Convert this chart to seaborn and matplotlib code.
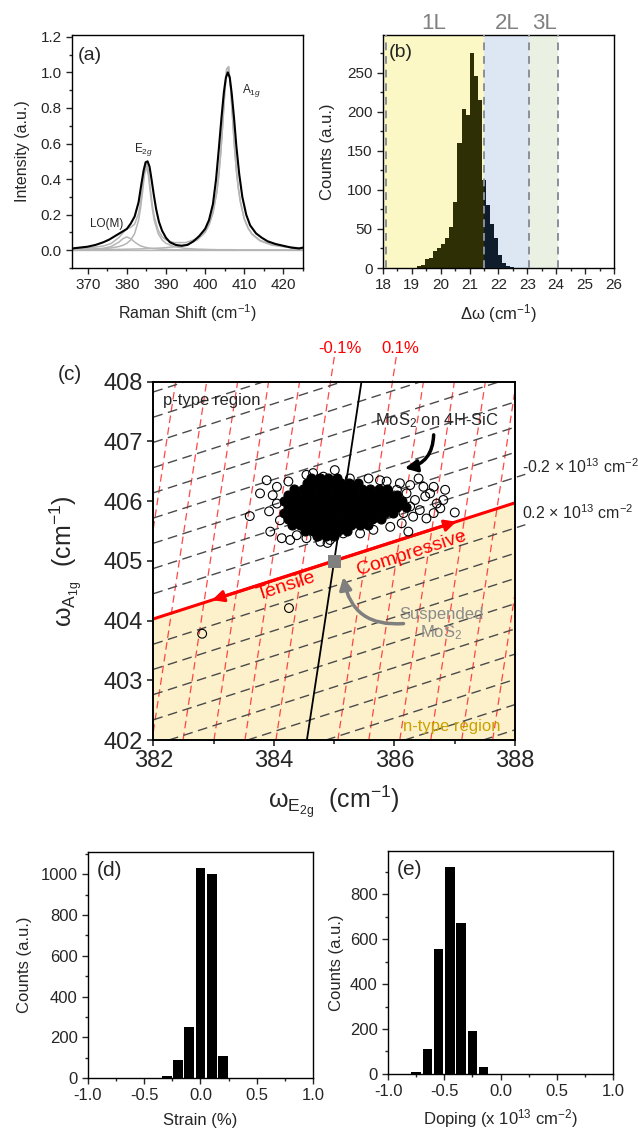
import numpy as np
import pandas as pd
import seaborn as sns
import matplotlib.pyplot as plt
from matplotlib.patches import Rectangle
from matplotlib.ticker import MultipleLocator, FormatStrFormatter

sns.set_style("ticks")
plt.rcParams['font.family'] = ['Liberation Sans', 'DejaVu Sans']
plt.rcParams['mathtext.fontset'] = 'custom'
plt.rcParams['mathtext.rm'] = 'Liberation Sans'
plt.rcParams['mathtext.it'] = 'Liberation Sans:italic'
plt.rcParams['mathtext.bf'] = 'Liberation Sans:bold'
plt.rcParams['axes.unicode_minus'] = False

# ---------------- datos (a): espectro Raman ----------------
spec_x = [366, 368, 370, 372, 374, 375.5, 377, 378.5, 380, 381, 382, 383, 383.7, 384.3, 384.8,
          385.3, 385.8, 386.3, 386.9, 387.5, 388.2, 389, 390, 391, 392.5, 394, 395.5, 397, 398.5,
          400, 401, 402, 402.8, 403.5, 404.2, 404.8, 405.3, 405.8, 406.3, 406.8, 407.4, 408, 408.7,
          409.5, 410.5, 411.5, 413, 414.5, 416, 418, 420, 422, 424, 425]
spec_y = [0.01, 0.015, 0.02, 0.03, 0.045, 0.06, 0.08, 0.10, 0.12, 0.15, 0.19, 0.27, 0.37, 0.45, 0.495,
          0.50, 0.47, 0.40, 0.31, 0.23, 0.16, 0.11, 0.07, 0.045, 0.03, 0.025, 0.03, 0.05, 0.08,
          0.12, 0.17, 0.26, 0.40, 0.57, 0.75, 0.89, 0.97, 1.00, 0.97, 0.88, 0.74, 0.58, 0.43,
          0.30, 0.20, 0.14, 0.095, 0.07, 0.05, 0.035, 0.025, 0.015, 0.01, 0.015]

fit_x = [366, 370, 374, 376, 378, 379, 380, 381, 382, 383, 383.5, 384, 384.5, 385, 385.5, 386, 386.5,
         387, 388, 389, 390, 392, 395, 398, 400, 401, 402, 403, 403.5, 404, 404.5, 405, 405.5, 406,
         406.5, 407, 407.5, 408, 408.5, 409, 410, 411, 412, 414, 417, 421, 425]
fit_lo = [0.002, 0.004, 0.011, 0.021, 0.046, 0.065, 0.075, 0.065, 0.046, 0.031, 0.025, 0.021, 0.018,
          0.015, 0.013, 0.011, 0.010, 0.0085, 0.0067, 0.0054, 0.0044, 0.0031, 0.002, 0.0014, 0.001,
          0.001, 0.001, 0.001, 0.001, 0.001, 0.001, 0.001, 0.001, 0.001, 0.001, 0.001, 0.001, 0.001,
          0.001, 0.001, 0.001, 0.001, 0.001, 0.001, 0.001, 0.001, 0.001]
fit_e2g = [0.003, 0.005, 0.009, 0.013, 0.021, 0.028, 0.039, 0.058, 0.094, 0.169, 0.235, 0.325, 0.423,
           0.47, 0.423, 0.325, 0.235, 0.169, 0.094, 0.058, 0.039, 0.021, 0.010, 0.006, 0.005, 0.004,
           0.004, 0.003, 0.003, 0.003, 0.003, 0.003, 0.003, 0.003, 0.003, 0.003, 0.002, 0.002, 0.002,
           0.002, 0.002, 0.002, 0.002, 0.002, 0.002, 0.001, 0.001]
fit_a1g = [0.002, 0.003, 0.004, 0.004, 0.005, 0.005, 0.006, 0.006, 0.007, 0.007, 0.008, 0.008, 0.008,
           0.009, 0.009, 0.010, 0.010, 0.011, 0.012, 0.013, 0.015, 0.019, 0.031, 0.058, 0.10, 0.142,
           0.208, 0.328, 0.422, 0.548, 0.708, 0.88, 1.015, 1.029, 0.917, 0.745, 0.579, 0.444, 0.345,
           0.272, 0.175, 0.122, 0.089, 0.053, 0.029, 0.017, 0.010]

# ---------------- datos (b): histograma de delta omega ----------------
dw_centers = [19.25, 19.39, 19.53, 19.67, 19.81, 19.95, 20.09, 20.23, 20.37, 20.51, 20.65, 20.79,
              20.93, 21.07, 21.21, 21.35, 21.49, 21.63, 21.77, 21.91, 22.05, 22.19, 22.33, 22.47]
dw_counts = [3, 4, 11, 13, 22, 26, 31, 38, 52, 84, 160, 204, 196, 275, 245, 215, 112, 80, 56, 38,
             17, 6, 2, 1]
dw_bin = 0.14
layer_lines = [18.12, 21.5, 23.05, 24.05]
layer_names = ["1L", "2L", "3L"]
layer_label_x = [19.75, 22.3, 23.6]

# ---------------- datos (c): correlacion E2g - A1g ----------------
E0, A0 = 385.0, 405.0                 # MoS2 suspendido (referencia)
strain_coef = (5.4, 1.75)             # cm-1 por % (E2g, A1g)
doping_coef = (-0.335, -2.22)         # cm-1 por 1e13 cm-2 (E2g, A1g)
strain_labels = [-0.1, 0.1]
doping_labels = [-0.2, 0.2]
arrow_strain = 0.375

core_a1g = [406.38, 406.30, 406.20, 406.10, 406.00, 405.90, 405.80, 405.70, 405.60, 405.50, 405.42]
core_e2g = [
    [384.62, 384.76, 384.90, 385.04],
    [384.55, 384.69, 384.83, 384.97, 385.11, 385.25, 385.39],
    [384.34, 384.48, 384.62, 384.76, 384.90, 385.04, 385.18, 385.32, 385.46, 385.60, 385.74, 385.88],
    [384.23, 384.37, 384.51, 384.65, 384.79, 384.93, 385.07, 385.21, 385.35, 385.49, 385.63, 385.77,
     385.91, 386.05],
    [384.16, 384.30, 384.44, 384.58, 384.72, 384.86, 385.00, 385.14, 385.28, 385.42, 385.56, 385.70,
     385.84, 385.98, 386.12],
    [384.23, 384.37, 384.51, 384.65, 384.79, 384.93, 385.07, 385.21, 385.35, 385.49, 385.63, 385.77,
     385.91, 386.05, 386.19],
    [384.16, 384.30, 384.44, 384.58, 384.72, 384.86, 385.00, 385.14, 385.28, 385.42, 385.56, 385.70,
     385.84, 385.98],
    [384.23, 384.37, 384.51, 384.65, 384.79, 384.93, 385.07, 385.21, 385.35, 385.49, 385.63, 385.77],
    [384.30, 384.44, 384.58, 384.72, 384.86, 385.00, 385.14, 385.28, 385.42, 385.56],
    [384.51, 384.65, 384.79, 384.93, 385.07, 385.21],
    [384.72, 384.86, 385.00],
]
ring_e2g = [383.88, 383.77, 383.98, 383.60, 383.92, 383.94, 384.13, 384.27, 384.05, 384.24, 384.54,
            384.65, 385.01, 384.82, 385.26, 385.57, 385.76, 385.87, 386.09, 386.26, 386.40, 386.48,
            386.65, 386.84, 387.00, 386.70, 386.65, 386.53, 386.42, 386.34, 386.51, 386.23, 386.12,
            385.93, 385.65, 385.43, 385.15, 384.93, 384.77, 384.54, 384.38, 384.89, 384.25, 382.81,
            384.05, 384.10, 386.20, 386.04, 386.26, 385.93, 386.15, 386.31, 385.82, 386.04, 386.81,
            386.59, 386.76]
ring_a1g = [406.35, 406.13, 406.10, 405.75, 405.83, 405.49, 405.38, 405.35, 406.24, 406.33, 406.44,
            406.47, 406.52, 406.41, 406.38, 406.38, 406.35, 406.33, 406.30, 406.27, 406.38, 406.24,
            406.24, 406.19, 405.81, 405.96, 405.80, 405.71, 405.85, 406.02, 406.08, 405.49, 405.63,
            405.57, 405.52, 405.46, 405.46, 405.35, 405.32, 405.38, 405.43, 405.30, 404.21, 403.78,
            405.96, 405.68, 406.13, 406.02, 405.91, 405.85, 405.80, 405.74, 406.13, 406.19, 406.02,
            406.13, 405.88]

# ---------------- datos (d) y (e) ----------------
strain_centers = [-0.3, -0.2, -0.1, 0.0, 0.1, 0.2]
strain_counts = [12, 87, 249, 1031, 1003, 110]
doping_centers = [-0.75, -0.65, -0.55, -0.45, -0.35, -0.25, -0.15]
doping_counts = [10, 113, 558, 920, 671, 193, 33]

fig = plt.figure(figsize=(6.38, 11.30), dpi=100)


def box(ax, lw=1.0):
    for s in ax.spines.values():
        s.set_visible(True)
        s.set_color('black')
        s.set_linewidth(lw)


def hist_bars(ax, centers, counts, width, **kws):
    df = pd.DataFrame({'centro': centers, 'cuenta': counts})
    edges = [c - width / 2 for c in centers] + [centers[-1] + width / 2]
    sns.histplot(data=df, x='centro', weights='cuenta', bins=edges, ax=ax,
                 alpha=1, linewidth=0, **kws)


# ---------------- (a) ----------------
axA = fig.add_axes([0.1129, 0.7628, 0.362, 0.2062])
fit_sum = np.array(fit_lo) + np.array(fit_e2g) + np.array(fit_a1g)
axA.axhline(0, color='#b8b8b8', lw=1.0, zorder=1)
for comp in [fit_lo, fit_e2g, fit_a1g, fit_sum]:
    sns.lineplot(x=fit_x, y=comp, ax=axA, color='#b5b5b5', lw=1.1, zorder=2)
sns.lineplot(x=spec_x, y=spec_y, ax=axA, color='black', lw=1.5, zorder=3)
axA.set_xlim(366, 425)
axA.set_ylim(-0.1, 1.21)
axA.xaxis.set_major_locator(MultipleLocator(10))
axA.xaxis.set_minor_locator(MultipleLocator(5))
axA.yaxis.set_major_locator(MultipleLocator(0.2))
axA.yaxis.set_minor_locator(MultipleLocator(0.1))
axA.yaxis.set_major_formatter(FormatStrFormatter('%.1f'))
axA.tick_params(which='major', direction='out', length=4, width=1, labelsize=11)
axA.tick_params(which='minor', direction='out', length=2, width=1)
axA.set_xlabel('Raman Shift (cm$^{-1}$)', fontsize=11.5)
axA.set_ylabel('Intensity (a.u.)', fontsize=11.5)
axA.xaxis.set_label_coords(0.5, -0.195)
axA.xaxis.label.set_va('center')
axA.yaxis.set_label_coords(-0.215, 0.5)
axA.yaxis.label.set_va('center')
axA.text(0.025, 0.95, '(a)', transform=axA.transAxes, fontsize=14, va='top')
axA.text(384.2, 0.565, 'E$_{2g}$', fontsize=8.5, ha='center', va='center')
axA.text(411.9, 0.90, 'A$_{1g}$', fontsize=8.5, ha='center', va='center')
axA.text(374.8, 0.148, 'LO(M)', fontsize=8.5, ha='center', va='center')
box(axA)

# ---------------- (b) ----------------
axB = fig.add_axes([0.6003, 0.7628, 0.362, 0.2062])
axB.axvspan(18, layer_lines[1], color='#fcf8c6', lw=0, zorder=0)
axB.axvspan(layer_lines[1], layer_lines[2], color='#dce7f3', lw=0, zorder=0)
axB.axvspan(layer_lines[2], layer_lines[3], color='#eaf1e3', lw=0, zorder=0)
hist_bars(axB, dw_centers, dw_counts, dw_bin, color='#2f2f06', zorder=2)
n_before = len(axB.patches)
hist_bars(axB, dw_centers, dw_counts, dw_bin, color='#0f1c2c', zorder=3)
clip_rect = Rectangle((layer_lines[1], 0), 10, 400, transform=axB.transData)
for p in axB.patches[n_before:]:
    p.set_clip_path(clip_rect)
for xv in layer_lines:
    axB.axvline(xv, color='#8a8f99', lw=1.4, linestyle=(0, (4, 3)), zorder=4)
for name, xv in zip(layer_names, layer_label_x):
    axB.text(xv, 1.005, name, transform=axB.get_xaxis_transform(), fontsize=16,
             color='#808080', ha='center', va='bottom')
axB.set_xlim(18, 26)
axB.set_ylim(0, 298)
axB.xaxis.set_major_locator(MultipleLocator(1))
axB.xaxis.set_minor_locator(MultipleLocator(0.5))
axB.yaxis.set_major_locator(MultipleLocator(50))
axB.yaxis.set_minor_locator(MultipleLocator(25))
axB.tick_params(which='major', direction='out', length=4, width=1, labelsize=11)
axB.tick_params(which='minor', direction='out', length=2, width=1)
axB.set_xlabel(r'$\mathrm{\Delta\omega}$ (cm$^{-1}$)', fontsize=12)
axB.set_ylabel('Counts (a.u.)', fontsize=12)
axB.xaxis.set_label_coords(0.5, -0.195)
axB.xaxis.label.set_va('center')
axB.yaxis.set_label_coords(-0.24, 0.5)
axB.yaxis.label.set_va('center')
axB.text(0.025, 0.96, '(b)', transform=axB.transAxes, fontsize=14, va='top')
box(axB)

# ---------------- (c) ----------------
axC = fig.add_axes([0.2403, 0.3451, 0.567, 0.3171])
xmin, xmax, ymin, ymax = 382, 388, 402, 408
slope_strain = strain_coef[1] / strain_coef[0]    # linea de dopaje cero
slope_doping = doping_coef[1] / doping_coef[0]    # linea de deformacion cero


def point(eps, n):
    return (E0 + eps * strain_coef[0] + n * doping_coef[0],
            A0 + eps * strain_coef[1] + n * doping_coef[1])


# region tipo n (debajo de la linea de dopaje cero)
xs = np.array([xmin, xmax])
axC.fill_between(xs, A0 + (xs - E0) * slope_strain, ymin, color='#fdf1cb', lw=0, zorder=0)

# lineas de deformacion constante (rojas) y de dopaje constante (grises)
for eps in np.round(np.arange(-1.3, 1.31, 0.1), 1):
    if eps == 0:
        continue
    px, py = point(eps, 0)
    if eps in strain_labels:
        yy = np.array([ymin, 408.42])
        axC.plot(px + (yy - py) / slope_doping, yy, color='#ff3333', lw=0.9,
                 linestyle=(0, (6, 3.5)), alpha=0.9, clip_on=False, zorder=1)
    else:
        axC.axline((px, py), slope=slope_doping, color='#ff3333', lw=0.9,
                   linestyle=(0, (6, 3.5)), alpha=0.9, zorder=1)
for n in np.round(np.arange(-3.2, 3.21, 0.2), 1):
    if n == 0:
        continue
    px, py = point(0, n)
    if n in doping_labels:
        xx = np.array([xmin, 388.17])
        axC.plot(xx, py + (xx - px) * slope_strain, color='#4a4a4a', lw=1.0,
                 linestyle=(0, (7, 4)), clip_on=False, zorder=1)
    else:
        axC.axline((px, py), slope=slope_strain, color='#4a4a4a', lw=1.0,
                   linestyle=(0, (7, 4)), zorder=1)

axC.axline((E0, A0), slope=slope_doping, color='black', lw=1.3, zorder=2)
axC.axline((E0, A0), slope=slope_strain, color='red', lw=2.2, zorder=2)
for sgn in [-1, 1]:
    axC.annotate('', xy=point(sgn * arrow_strain, 0), xytext=(E0, A0),
                 arrowprops=dict(arrowstyle='-|>', color='red', lw=2.2, mutation_scale=17,
                                 shrinkA=0, shrinkB=0), zorder=3)

# nube de puntos: MoS2 sobre 4H-SiC
core_x = [v for row in core_e2g for v in row]
core_y = [a for a, row in zip(core_a1g, core_e2g) for _ in row]
sns.scatterplot(x=core_x, y=core_y, ax=axC, color='black', edgecolor='black', s=42,
                linewidth=0.8, zorder=4)
sns.scatterplot(x=ring_e2g, y=ring_a1g, ax=axC, marker='o', facecolor='none',
                edgecolor='black', s=40, linewidth=0.8, zorder=4)
sns.scatterplot(x=[E0], y=[A0], ax=axC, marker='s', color='#808080', edgecolor='#808080',
                s=80, zorder=5)

axC.set_xlim(xmin, xmax)
axC.set_ylim(ymin, ymax)
axC.xaxis.set_major_locator(MultipleLocator(2))
axC.xaxis.set_minor_locator(MultipleLocator(1))
axC.yaxis.set_major_locator(MultipleLocator(1))
axC.tick_params(which='major', direction='out', length=4, width=1.2, labelsize=17)
axC.tick_params(which='minor', direction='out', length=3, width=1.2)
axC.set_xlabel(r'$\mathrm{\omega}_{\mathrm{E}_{\mathrm{2g}}}$  (cm$^{-1}$)', fontsize=18)
axC.set_ylabel(r'$\mathrm{\omega}_{\mathrm{A}_{\mathrm{1g}}}$  (cm$^{-1}$)', fontsize=18)
axC.xaxis.set_label_coords(0.5, -0.175)
axC.xaxis.label.set_va('center')
axC.yaxis.set_label_coords(-0.24, 0.5)
axC.yaxis.label.set_va('center')

axC.text(382.16, 407.69, 'p-type region', fontsize=12, ha='left', va='center', zorder=6)
axC.text(385.68, 407.34, 'MoS$_2$ on 4H-SiC', fontsize=12, ha='left', va='center', zorder=6)
axC.text(386.14, 402.22, 'n-type region', fontsize=12, ha='left', va='center',
         color='#c9a200', zorder=6)
axC.text(386.78, 403.93, 'Suspended\nMoS$_2$', fontsize=12, ha='center', va='center',
         color='#8a8a8a', linespacing=1.1, zorder=6)
axC.text(384.21, 404.57, 'Tensile', fontsize=14, ha='center', va='center', color='red',
         rotation=18, zorder=6)
axC.text(386.29, 405.13, 'Compressive', fontsize=14, ha='center', va='center', color='red',
         rotation=18, zorder=6)
axC.annotate('', xy=(386.17, 406.55), xytext=(386.65, 407.11),
             arrowprops=dict(arrowstyle='-|>', color='black', lw=2.5, mutation_scale=18,
                             connectionstyle='arc3,rad=-0.4', shrinkA=0, shrinkB=0), zorder=6)
axC.annotate('', xy=(385.15, 404.73), xytext=(386.15, 403.95),
             arrowprops=dict(arrowstyle='-|>', color='#7f7f7f', lw=2.5, mutation_scale=18,
                             connectionstyle='arc3,rad=-0.45', shrinkA=0, shrinkB=0), zorder=6)
for eps, xl in zip(strain_labels, [385.10, 386.09]):
    axC.text(xl, 408.55, f'{eps:.1f}%', fontsize=12, color='red', ha='center', va='center')
for n, yl in zip(doping_labels, [406.57, 405.80]):
    axC.text(388.11, yl, f'{n:.1f} × 10$^{{13}}$ cm$^{{-2}}$', fontsize=11.5, ha='left',
             va='center')
fig.text(70 / 638, 1 - 374 / 1130, '(c)', fontsize=15, ha='center', va='center')
box(axC, 1.4)

# ---------------- (d) ----------------
axD = fig.add_axes([0.1379, 0.046, 0.3527, 0.2])
hist_bars(axD, strain_centers, strain_counts, 0.1, shrink=0.85, color='black')
axD.set_xlim(-1, 1)
axD.set_ylim(0, 1110)
axD.xaxis.set_major_locator(MultipleLocator(0.5))
axD.xaxis.set_minor_locator(MultipleLocator(0.25))
axD.xaxis.set_major_formatter(FormatStrFormatter('%.1f'))
axD.yaxis.set_major_locator(MultipleLocator(200))
axD.yaxis.set_minor_locator(MultipleLocator(100))
axD.tick_params(which='major', direction='out', length=4, width=1, labelsize=12)
axD.tick_params(which='minor', direction='out', length=2, width=1)
axD.set_xlabel('Strain (%)', fontsize=12)
axD.set_ylabel('Counts (a.u.)', fontsize=12)
axD.xaxis.set_label_coords(0.5, -0.19)
axD.xaxis.label.set_va('center')
axD.yaxis.set_label_coords(-0.28, 0.5)
axD.yaxis.label.set_va('center')
axD.text(0.04, 0.96, '(d)', transform=axD.transAxes, fontsize=15, va='top')
box(axD)

# ---------------- (e) ----------------
axE = fig.add_axes([0.6082, 0.0496, 0.3527, 0.1973])
hist_bars(axE, doping_centers, doping_counts, 0.1, shrink=0.85, color='black')
axE.set_xlim(-1, 1)
axE.set_ylim(0, 992)
axE.xaxis.set_major_locator(MultipleLocator(0.5))
axE.xaxis.set_minor_locator(MultipleLocator(0.25))
axE.xaxis.set_major_formatter(FormatStrFormatter('%.1f'))
axE.yaxis.set_major_locator(MultipleLocator(200))
axE.yaxis.set_minor_locator(MultipleLocator(100))
axE.tick_params(which='major', direction='out', length=4, width=1, labelsize=12)
axE.tick_params(which='minor', direction='out', length=2, width=1)
axE.set_xlabel('Doping (x 10$^{13}$ cm$^{-2}$)', fontsize=12)
axE.set_ylabel('Counts (a.u.)', fontsize=12)
axE.xaxis.set_label_coords(0.5, -0.2)
axE.xaxis.label.set_va('center')
axE.yaxis.set_label_coords(-0.228, 0.5)
axE.yaxis.label.set_va('center')
axE.text(0.04, 0.96, '(e)', transform=axE.transAxes, fontsize=15, va='top')
box(axE)

plt.savefig('out.png', dpi=100)
